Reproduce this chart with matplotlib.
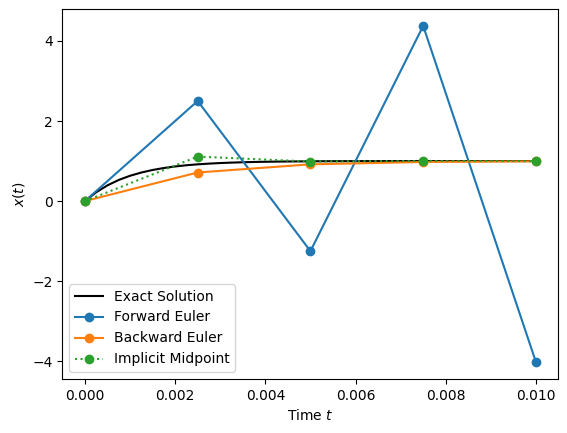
import matplotlib
matplotlib.use("Agg")
from matplotlib import pyplot as plt
import numpy as np

# step times for the numerical methods
t_steps = [0.0, 0.0025, 0.005, 0.0075, 0.01]
forward_euler = [0.0, 2.5, -1.25, 4.375, -4.02]
backward_euler = [0.0, 0.714, 0.918, 0.977, 0.993]
implicit_midpoint = [0.0, 1.111, 0.988, 1.001, 1.000]

# exact solution, sampled finely
t_exact = np.linspace(0.0, 0.01, 41)
x_exact = [0.0, 0.221, 0.393, 0.528, 0.632, 0.713, 0.777, 0.826, 0.865, 0.895,
           0.918, 0.936, 0.950, 0.961, 0.970, 0.977, 0.982, 0.986, 0.989, 0.991,
           0.993, 0.995, 0.996, 0.997, 0.998, 0.998, 0.998, 0.999, 0.999, 0.999,
           0.999, 1.0, 1.0, 1.0, 1.0, 1.0, 1.0, 1.0, 1.0, 1.0, 1.0]

fig = plt.figure(figsize=(5.67, 4.33), dpi=100)
ax = fig.add_subplot(111)
fig.subplots_adjust(left=0.11, right=0.985, top=0.979, bottom=0.125)

ax.plot(t_exact, x_exact, color='black', label='Exact Solution')
ax.plot(t_steps, forward_euler, 'o-', label='Forward Euler')
ax.plot(t_steps, backward_euler, 'o-', label='Backward Euler')
ax.plot(t_steps, implicit_midpoint, 'o:', label='Implicit Midpoint')

ax.set_xlabel('Time $t$')
ax.set_ylabel('$x(t)$')
ax.legend(loc='lower left')

fig.savefig('out.png')
